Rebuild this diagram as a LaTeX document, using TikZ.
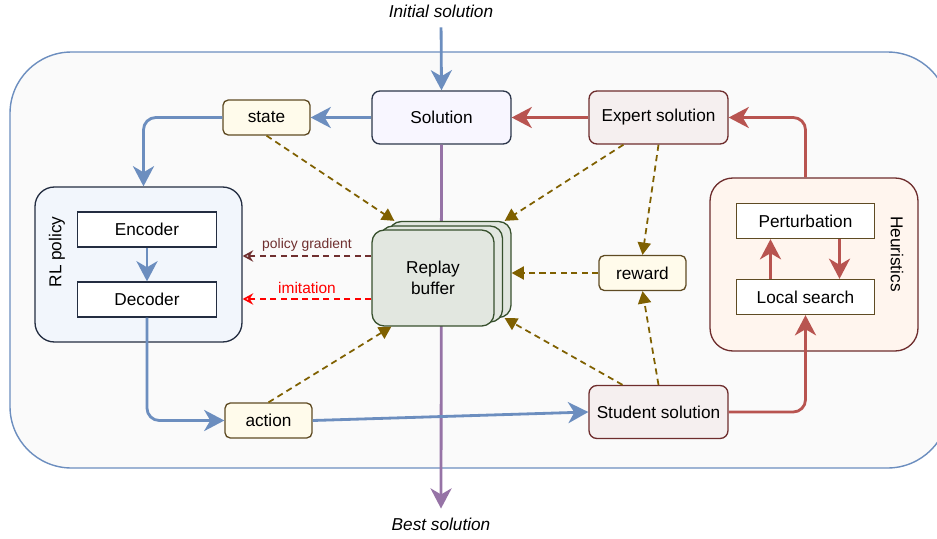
\documentclass[tikz,border=0pt]{standalone}
\usepackage{fontspec}
\setmainfont{Liberation Sans}
\usetikzlibrary{arrows.meta,calc}
\definecolor{flowblue}{RGB}{108,142,191}
\definecolor{flowred}{RGB}{184,84,80}
\definecolor{flowpurple}{RGB}{150,115,166}
\definecolor{dashbrown}{RGB}{127,96,0}
\definecolor{gradred}{RGB}{111,47,47}
\definecolor{outerfill}{RGB}{250,250,250}
\definecolor{solfill}{RGB}{248,246,255}
\definecolor{soledge}{RGB}{45,55,75}
\definecolor{expfill}{RGB}{245,239,239}
\definecolor{expedge}{RGB}{110,45,45}
\definecolor{tagfill}{RGB}{255,251,235}
\definecolor{tagedge}{RGB}{95,75,35}
\definecolor{rlfill}{RGB}{242,246,252}
\definecolor{rledge}{RGB}{35,45,65}
\definecolor{heurfill}{RGB}{255,245,238}
\definecolor{buffill}{RGB}{226,231,224}
\definecolor{bufedge}{RGB}{55,80,45}

\begin{document}
\begin{tikzpicture}[x=0.02cm, y=-0.02cm,
  font=\fontsize{9.8}{12}\selectfont,
  every node/.style={inner sep=0pt},
  solbox/.style={draw=soledge, fill=solfill, line width=0.75pt, rounded corners=4.5pt, minimum width=2.78cm, minimum height=1.06cm},
  expbox/.style={solbox, draw=expedge, fill=expfill},
  tagbox/.style={draw=tagedge, fill=tagfill, line width=0.75pt, rounded corners=3pt, minimum width=1.74cm, minimum height=0.7cm},
  inbox/.style={draw=#1, fill=white, line width=0.75pt, minimum width=2.77cm, minimum height=0.7cm},
  group/.style={draw=#1, line width=0.75pt},
  replaybox/.style={draw=bufedge, fill=buffill, line width=0.75pt, rounded corners=7pt, minimum width=2.44cm, minimum height=1.92cm, align=center},
  flow/.style={line width=1.6pt, rounded corners=7pt, -{Stealth[length=11.5pt, width=12pt, inset=3.5pt]}},
  store/.style={draw=dashbrown, line width=1pt, dash pattern=on 3.5pt off 2.5pt, -{Triangle[length=7pt, width=7.5pt]}},
  back/.style={line width=0.9pt, dash pattern=on 3.5pt off 2.5pt, -{Stealth[open, length=6pt, width=6.5pt, inset=2pt]}},
  ital/.style={font=\fontsize{9.8}{12}\selectfont\itshape},
  small/.style={font=\fontsize{7.9}{9}\selectfont}]
\useasboundingbox (0,0) rectangle (937,538);%
\begin{scope}
\clip (0,0) rectangle (937,538);%
\draw[draw=flowblue, fill=outerfill, line width=0.8pt, rounded corners=35pt] (10,52) rectangle (949,468);%
\end{scope}
\node[ital] (init) at (441,11) {Initial solution};%
\node[ital] (best) at (441,524) {Best solution};%
\node[solbox] (sol) at (441.5,117.5) {Solution};%
\draw[flow, flowpurple, shorten >=5pt] (sol.south) -- (best.north);%
\node[expbox] (expert) at (658.5,117.5) {Expert solution};%
\node[expbox] (student) at (658.5,412) {Student solution};%
\node[tagbox] (state) at (266.5,117.5) {state};%
\node[tagbox] (action) at (268.5,420.5) {action};%
\node[tagbox] (reward) at (642.5,273) {reward};%
\node[group=rledge, fill=rlfill, rounded corners=11pt, minimum width=4.14cm, minimum height=3.1cm] (rl) at (138.5,264.5) {};%
\node[inbox=rledge] (enc) at (147,229.5) {Encoder};%
\node[inbox=rledge] (dec) at (147,299.5) {Decoder};%
\node[rotate=90] (rllabel) at (57,252) {RL policy};%
\node[group=expedge, fill=heurfill, rounded corners=13pt, minimum width=4.16cm, minimum height=3.46cm] (heur) at (814,264.5) {};%
\node[inbox=tagedge] (pert) at (805.5,221) {Perturbation};%
\node[inbox=tagedge] (local) at (805.5,297) {Local search};%
\node[rotate=-90] (heurlabel) at (897,254) {Heuristics};%
\node[replaybox] (replayback) at (450,269.5) {};%
\node[replaybox] (replaymid) at (441.5,274) {};%
\node[replaybox] (replay) at (433,278) {Replay\\buffer};%
\draw[flow, flowblue, shorten <=5.5pt] (init.south) -- (sol.north);%
\draw[flow, flowblue] (sol.west) -- (state.east);%
\draw[flow, flowblue] (state.west) -| ($(rl.north)+(5,0)$);%
\draw[flow, flowblue] (enc.south) -- (dec.north);%
\draw[flow, flowblue] (dec.south) |- (action.west);%
\draw[flow, flowblue] (action.east) -- (student.west);%
\draw[flow, flowred] (expert.west) -- (sol.east);%
\draw[flow, flowred] (heur.north -| local.north) |- (expert.east);%
\draw[flow, flowred] (student.east) -| (local.south);%
\draw[flow, flowred] ($(local.north)+(-35,0)$) -- ($(pert.south)+(-35,0)$);%
\draw[flow, flowred] ($(pert.south)+(34,0)$) -- ($(local.north)+(34,0)$);%
\draw[store] (state.south) -- ($(replayback.north west)+(6,0)$);%
\draw[store] ($(expert.south)+(-35,0)$) -- ($(replayback.north east)+(-7,0)$);%
\draw[store] (reward.west) -- (reward.west -| replayback.east);%
\draw[store] ($(student.north)+(-36,0)$) -- ($(replayback.south east)+(-7,0)$);%
\draw[store] (action.north) -- ($(replay.south west)+(20,0)$);%
\draw[store] (expert.south) -- (reward.north);%
\draw[store] (student.north) -- (reward.south);%
\draw[back, gradred] ($(replay.west)+(0,-22)$) coordinate (pg) -- (pg -| rl.east) node[small, midway, above=2pt] {policy gradient};%
\draw[back, red] ($(replay.west)+(0,21)$) coordinate (im) -- (im -| rl.east) node[font=\fontsize{8.8}{10}\selectfont, text=red, midway, above=2.5pt] {imitation};%
\end{tikzpicture}
\end{document}
